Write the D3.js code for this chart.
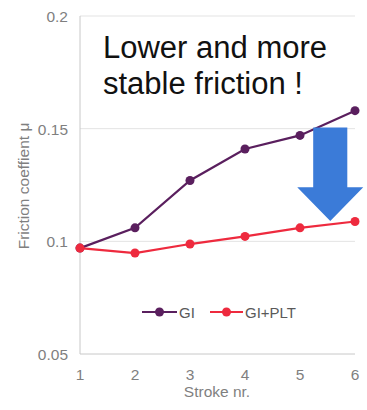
<!DOCTYPE html>
<html>
<head>
<meta charset="utf-8">
<script src="https://cdn.jsdelivr.net/npm/d3@7"></script>
<style>
  body { margin: 0; background: #fff; }
  text { font-family: Arial, "Liberation Sans", sans-serif; }
</style>
</head>
<body>
<script>
var strokes = [1, 2, 3, 4, 5, 6];
var giValues = [0.097, 0.106, 0.127, 0.141, 0.147, 0.158];
var pltValues = [0.097, 0.0948, 0.0988, 0.1022, 0.106, 0.1088];
var yTicks = [0.05, 0.1, 0.15, 0.2];
var yTickLabels = ['0.05', '0.1', '0.15', '0.2'];
var seriesNames = ['GI', 'GI+PLT'];
var colors = ['#5a1f5e', '#ee2a3e'];

var w = 367, h = 410;
var margin = { top: 16, right: 12, bottom: 56, left: 80 };

var svg = d3.select('body')
    .append('svg')
    .attr('width', w)
    .attr('height', h);

var x = d3.scaleLinear()
    .domain([1, 6])
    .range([margin.left, 355]);

var y = d3.scaleLinear()
    .domain([0.05, 0.2])
    .range([354, margin.top]);

// gridlines
svg.append('g')
    .selectAll('line')
    .data(yTicks.slice(1))
    .enter()
    .append('line')
    .attr('x1', x(1))
    .attr('x2', x(6))
    .attr('y1', function (d) { return y(d); })
    .attr('y2', function (d) { return y(d); })
    .attr('stroke', '#e3e3e3')
    .attr('stroke-width', 1);

// axis lines
svg.append('line')
    .attr('x1', x(1)).attr('x2', x(1))
    .attr('y1', y(0.2)).attr('y2', y(0.05))
    .attr('stroke', '#c8c8c8');
svg.append('line')
    .attr('x1', x(1)).attr('x2', x(6))
    .attr('y1', y(0.05)).attr('y2', y(0.05))
    .attr('stroke', '#c8c8c8');

// tick labels
svg.append('g')
    .selectAll('text')
    .data(yTicks)
    .enter()
    .append('text')
    .attr('x', 68)
    .attr('y', function (d) { return y(d) + 6; })
    .attr('text-anchor', 'end')
    .attr('font-size', 15.5)
    .attr('fill', '#7f7f7f')
    .text(function (d, i) { return yTickLabels[i]; });

svg.append('g')
    .selectAll('text')
    .data(strokes)
    .enter()
    .append('text')
    .attr('x', function (d) { return x(d); })
    .attr('y', 380)
    .attr('text-anchor', 'middle')
    .attr('font-size', 15.5)
    .attr('fill', '#7f7f7f')
    .text(function (d) { return d; });

svg.append('text')
    .attr('x', 217)
    .attr('y', 397)
    .attr('text-anchor', 'middle')
    .attr('font-size', 15.5)
    .attr('fill', '#7f7f7f')
    .text('Stroke nr.');

svg.append('text')
    .attr('transform', 'translate(29,186) rotate(-90)')
    .attr('text-anchor', 'middle')
    .attr('font-size', 15.5)
    .attr('fill', '#7f7f7f')
    .text('Friction coeffient  \u03bc');

// annotation text
svg.append('text')
    .attr('x', 103)
    .attr('y', 58)
    .attr('font-size', 31)
    .attr('fill', '#111')
    .text('Lower and more');
svg.append('text')
    .attr('x', 103)
    .attr('y', 94)
    .attr('font-size', 31)
    .attr('fill', '#111')
    .text('stable friction !');

// series
var line = d3.line()
    .x(function (d, i) { return x(strokes[i]); })
    .y(function (d) { return y(d); });

[giValues, pltValues].forEach(function (vals, k) {
    var g = svg.append('g');
    g.append('path')
        .attr('d', line(vals))
        .attr('fill', 'none')
        .attr('stroke', colors[k])
        .attr('stroke-width', 2.2);
    g.selectAll('circle')
        .data(vals)
        .enter()
        .append('circle')
        .attr('cx', function (d, i) { return x(strokes[i]); })
        .attr('cy', function (d) { return y(d); })
        .attr('r', 4.5)
        .attr('fill', colors[k]);
});

// arrow (data units)
var arrowX = 5.55, shaftHalf = 0.31, headHalf = 0.6;
var arrowTop = 0.1505, headStart = 0.124, arrowTip = 0.109;
var arrowPts = [
    [arrowX - shaftHalf, arrowTop], [arrowX + shaftHalf, arrowTop],
    [arrowX + shaftHalf, headStart], [arrowX + headHalf, headStart],
    [arrowX, arrowTip], [arrowX - headHalf, headStart],
    [arrowX - shaftHalf, headStart]
];
svg.append('polygon')
    .attr('points', arrowPts.map(function (p) { return x(p[0]) + ',' + y(p[1]); }).join(' '))
    .attr('fill', '#3b7bd8');

// legend
var legend = svg.append('g')
    .selectAll('g')
    .data(seriesNames)
    .enter()
    .append('g')
    .attr('transform', function (d, i) { return 'translate(' + [142, 210][i] + ',312)'; });
legend.append('line')
    .attr('x1', 0).attr('x2', function (d, i) { return [35, 33][i]; })
    .attr('stroke', function (d, i) { return colors[i]; })
    .attr('stroke-width', 2.2);
legend.append('circle')
    .attr('cx', function (d, i) { return [17.5, 16.5][i]; })
    .attr('r', 4.5)
    .attr('fill', function (d, i) { return colors[i]; });
legend.append('text')
    .attr('x', function (d, i) { return [37, 35][i]; })
    .attr('y', 5.5)
    .attr('font-size', 15)
    .attr('fill', '#595959')
    .text(function (d) { return d; });
</script>
</body>
</html>
